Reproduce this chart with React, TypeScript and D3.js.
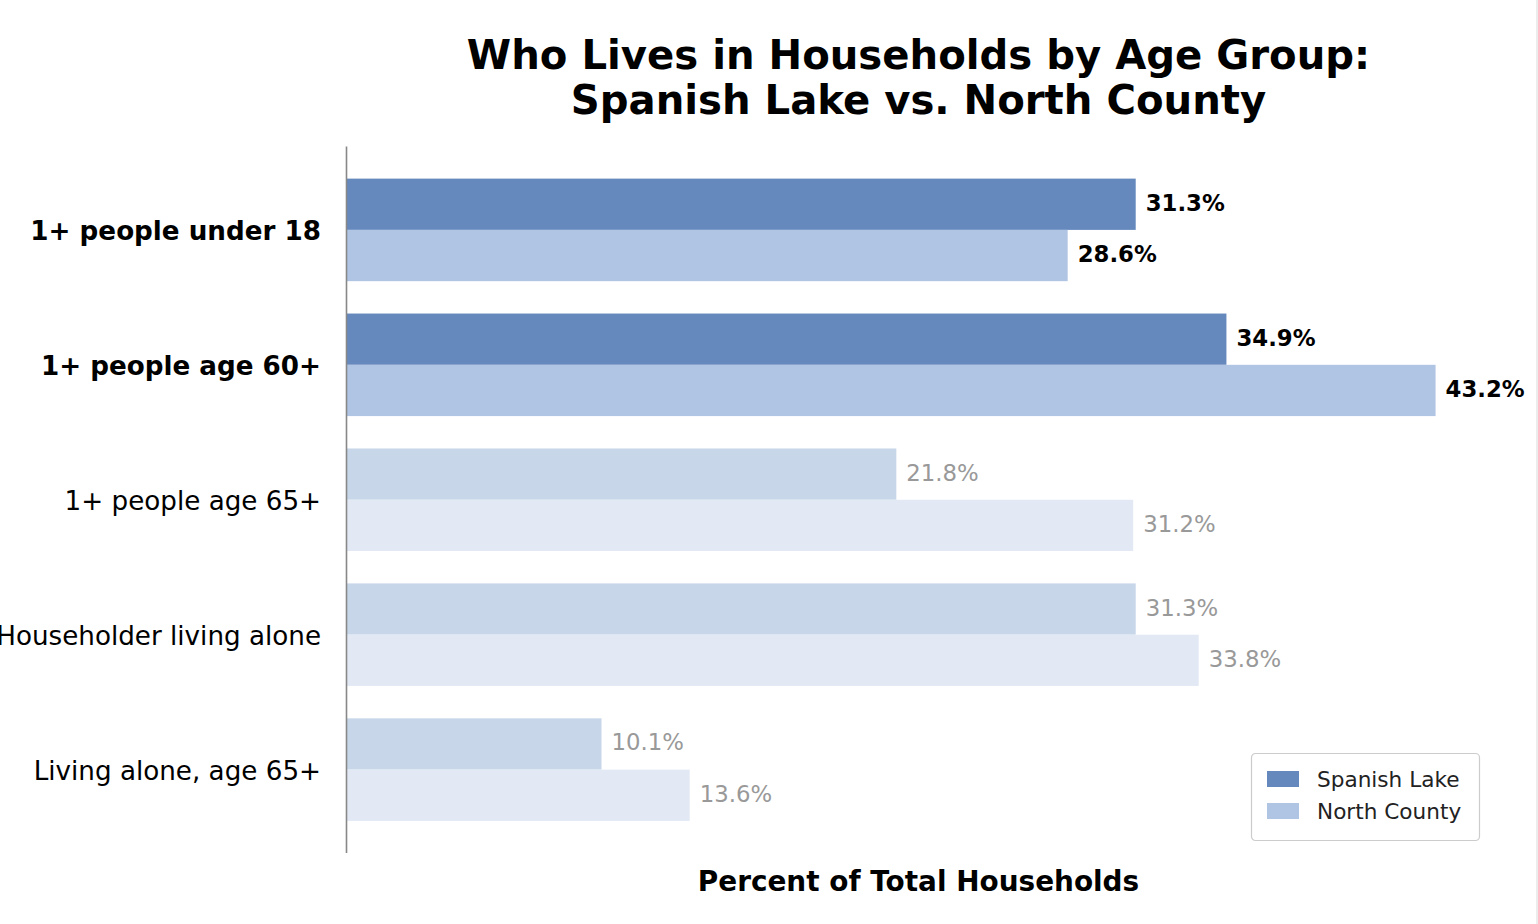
import React from 'react';
import * as d3 from 'd3';
import { useEffect, useRef } from 'react';

const categories = [
    '1+ people under 18',
    '1+ people age 60+',
    '1+ people age 65+',
    'Householder living alone',
    'Living alone, age 65+',
];
const spanishLake = [31.3, 34.9, 21.8, 31.3, 10.1];
const northCounty = [28.6, 43.2, 31.2, 33.8, 13.6];
const highlighted = ['1+ people under 18', '1+ people age 60+'];
const seriesNames = ['Spanish Lake', 'North County'];

const width = 1538;
const height = 924;
const font = 'DejaVu Sans, sans-serif';

const App = () => {
    const chartRef = useRef<SVGSVGElement | null>(null);

    useEffect((): void => {
        d3.select(chartRef.current).selectAll('*').remove();

        const svg = d3.select(chartRef.current);

        svg.append('rect')
            .attr('width', width)
            .attr('height', height)
            .attr('fill', 'white');

        const left = 347;
        const right = 1490;
        const top = 146.5;
        const bottom = 853;
        const barH = 0.38;

        const xScale = d3.scaleLinear()
            .domain([0, d3.max(northCounty.concat(spanishLake))! * 1.05])
            .range([left, right]);

        const yScale = d3.scaleLinear()
            .domain([-barH - 0.05 * (categories.length - 1 + 2 * barH), categories.length - 1 + barH + 0.05 * (categories.length - 1 + 2 * barH)])
            .range([top, bottom]);

        const colours = {
            sl: '#6588bd',
            nc: '#b0c4e3',
            slFaded: '#c7d6e9',
            ncFaded: '#e2e9f5',
        };

        const rows = categories.map((c, i) => ({
            category: c,
            i,
            hot: highlighted.includes(c),
            values: [spanishLake[i], northCounty[i]],
        }));

        const bars = rows.flatMap((r) => r.values.map((v, s) => ({
            i: r.i,
            s,
            v,
            hot: r.hot,
        })));

        svg.selectAll('rect.bar')
            .data(bars)
            .enter()
            .append('rect')
            .attr('class', 'bar')
            .attr('x', xScale(0))
            .attr('y', d => yScale(d.i - barH + d.s * barH))
            .attr('width', d => xScale(d.v) - xScale(0))
            .attr('height', yScale(barH) - yScale(0))
            .attr('fill', d => d.hot
                ? (d.s === 0 ? colours.sl : colours.nc)
                : (d.s === 0 ? colours.slFaded : colours.ncFaded));

        svg.selectAll('text.value')
            .data(bars)
            .enter()
            .append('text')
            .attr('class', 'value')
            .attr('x', d => xScale(d.v) + 10)
            .attr('y', d => yScale(d.i - barH / 2 + d.s * barH) - 1.5)
            .attr('dominant-baseline', 'central')
            .style('font-family', font)
            .style('font-size', '22.8px')
            .style('font-weight', d => d.hot ? 'bold' : 'normal')
            .attr('fill', d => d.hot ? 'black' : '#999999')
            .text(d => `${d.v.toFixed(1)}%`);

        svg.selectAll('text.cat')
            .data(rows)
            .enter()
            .append('text')
            .attr('class', 'cat')
            .attr('x', 321)
            .attr('y', d => yScale(d.i) + 1)
            .attr('text-anchor', 'end')
            .attr('dominant-baseline', 'central')
            .style('font-family', font)
            .style('font-size', '26.2px')
            .style('font-weight', d => d.hot ? 'bold' : 'normal')
            .attr('fill', 'black')
            .text(d => d.category);

        svg.append('line')
            .attr('x1', left - 0.5)
            .attr('x2', left - 0.5)
            .attr('y1', top)
            .attr('y2', bottom)
            .attr('stroke', '#888888')
            .attr('stroke-width', 1.6);

        const midX = (left + right) / 2;

        svg.append('text')
            .attr('x', midX)
            .attr('y', 69)
            .attr('text-anchor', 'middle')
            .style('font-family', font)
            .style('font-size', '40.2px')
            .style('font-weight', 'bold')
            .text('Who Lives in Households by Age Group:');

        svg.append('text')
            .attr('x', midX)
            .attr('y', 114)
            .attr('text-anchor', 'middle')
            .style('font-family', font)
            .style('font-size', '40.2px')
            .style('font-weight', 'bold')
            .text('Spanish Lake vs. North County');

        svg.append('text')
            .attr('x', midX)
            .attr('y', 891)
            .attr('text-anchor', 'middle')
            .style('font-family', font)
            .style('font-size', '27.9px')
            .style('font-weight', 'bold')
            .text('Percent of Total Households');

        const legend = svg.append('g')
            .attr('transform', 'translate(1251,753)');

        legend.append('rect')
            .attr('x', 0.5)
            .attr('y', 0.5)
            .attr('width', 228)
            .attr('height', 87)
            .attr('rx', 4)
            .attr('fill', 'white')
            .attr('stroke', '#cccccc')
            .attr('stroke-width', 1.2);

        const legendColours = [colours.sl, colours.nc];

        seriesNames.forEach((name, k) => {
            legend.append('rect')
                .attr('x', 16)
                .attr('y', 18 + k * 32)
                .attr('width', 32)
                .attr('height', 16)
                .attr('fill', legendColours[k]);
            legend.append('text')
                .attr('x', 66)
                .attr('y', 26 + k * 32)
                .attr('dominant-baseline', 'central')
                .style('font-family', font)
                .style('font-size', '21.6px')
                .attr('fill', '#222222')
                .text(name);
        });

        svg.append('line')
            .attr('x1', width - 1)
            .attr('x2', width - 1)
            .attr('y1', 0)
            .attr('y2', height)
            .attr('stroke', '#e6e6e6')
            .attr('stroke-width', 1.5);
    }, []);

    return (
        <>
            <svg ref={chartRef} width={width} height={height}
                 style={{ position: 'absolute', left: 0, top: 0, display: 'block' }}></svg>
        </>
    );
};

export default App;
